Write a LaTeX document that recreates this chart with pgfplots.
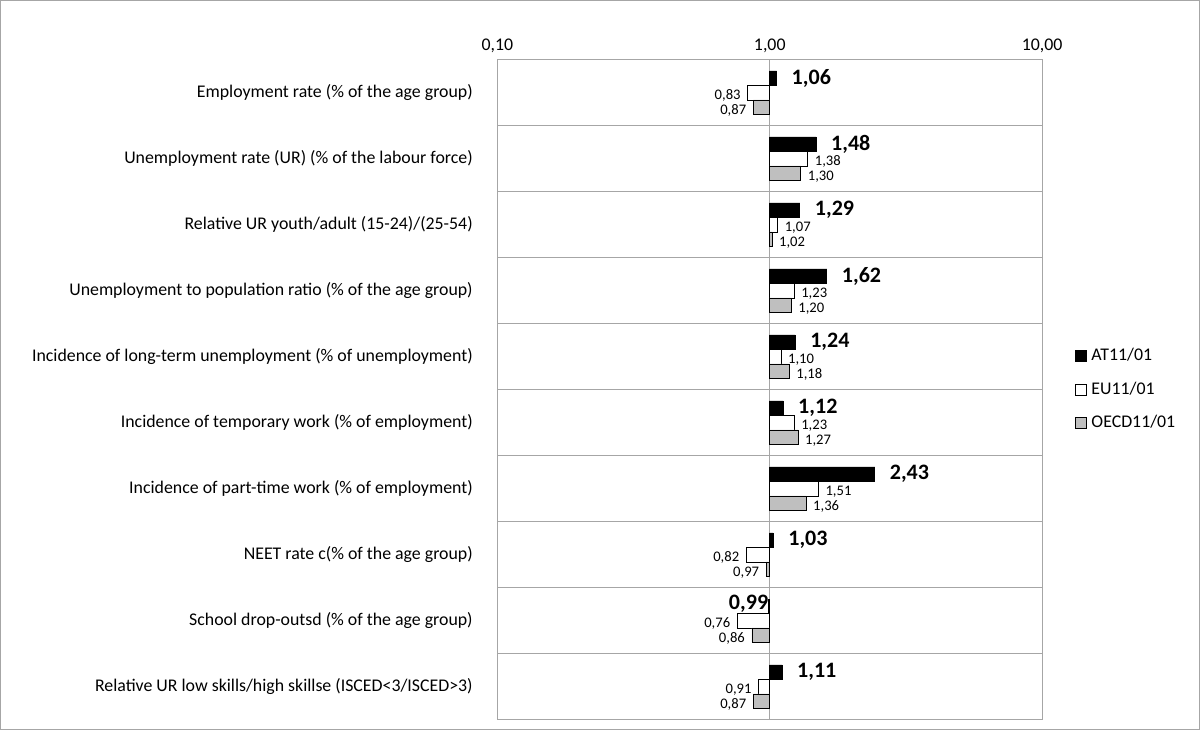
\documentclass[border=0pt]{standalone}
\usepackage{fontspec}
\setmainfont{Carlito}
\usepackage{pgfplots}
\pgfplotsset{compat=1.18}
\usetikzlibrary{calc}
\begin{document}
\begin{tikzpicture}
\begin{axis}[name=a, scale only axis, width=272pt, height=329.5pt,
  xmode=log, xmin=0.1, xmax=10, log basis x=10,
  ymin=-0.5, ymax=9.5, y dir=reverse,
  xtick={0.1,1,10}, xticklabel pos=upper,
  xticklabels={{0,10},{1,00},{10,00}},
  xtick style={draw=none}, minor xtick={}, 
  xmajorgrids, grid style={gray!70, line width=0.6pt},
  extra y ticks={0.5,1.5,2.5,3.5,4.5,5.5,6.5,7.5,8.5}, extra y tick labels={},
  extra y tick style={ymajorgrids, major tick length=0pt, grid style={gray!70,line width=0.6pt}},
  ytick={0,...,9}, ytick style={draw=none},
  yticklabels={Employment rate (\% of the age group),
    Unemployment rate (UR) (\% of the labour force),
    Relative UR youth/adult (15-24)/(25-54),
    Unemployment to population ratio (\% of the age group),
    Incidence of long-term unemployment (\% of unemployment),
    Incidence of temporary work (\% of employment),
    Incidence of part-time work (\% of employment),
    NEET rate c(\% of the age group),
    School drop-outsd (\% of the age group),
    Relative UR low skills/high skillse (ISCED<3/ISCED>3)},
  yticklabel style={font=\fontsize{8.9}{10}\selectfont, xshift=-4.5pt},
  xticklabel style={font=\fontsize{8.9}{10}\selectfont},
  axis line style={gray!70, line width=0.6pt},
  xbar, bar width=0.22, bar shift=0pt,
  visualization depends on={rawx \as \rx},
  nodes near coords={\pgfmathprintnumber[fixed,fixed zerofill,precision=2,use comma,assume math mode=true]{\rx}},
  legend style={at={(1.06,0.5)}, anchor=west, draw=none, font=\fontsize{8.9}{10}\selectfont, row sep=5pt, inner sep=0pt},
  legend cell align=left,
  legend image code/.code={\draw[#1, line width=0.5pt] (0pt,-2.8pt) rectangle (5.6pt,2.8pt);},
]
\addplot[fill=black, draw=black, nodes near coords style={anchor=west, font=\bfseries\fontsize{11}{12}\selectfont, xshift=4pt}]
 coordinates {(1.06,-0.22) (1.48,0.78) (1.29,1.78) (1.62,2.78) (1.24,3.78) (1.12,4.78) (2.43,5.78) (1.03,6.78) (1.11,8.78)};
\addlegendentry{AT11/01}
\addplot[fill=white, draw=black, nodes near coords style={anchor=west, font=\fontsize{7.3}{7.5}\selectfont, yshift=-1.5pt}]
 coordinates {(1.38,1) (1.07,2) (1.23,3) (1.10,4) (1.23,5) (1.51,6)};
\addlegendentry{EU11/01}
\addplot[fill=gray!50, draw=black, nodes near coords style={anchor=west, font=\fontsize{7.3}{7.5}\selectfont, yshift=-1.5pt}]
 coordinates {(1.30,1.22) (1.02,2.22) (1.20,3.22) (1.18,4.22) (1.27,5.22) (1.36,6.22)};
\addlegendentry{OECD11/01}
\addplot[forget plot, fill=black, draw=black, nodes near coords style={anchor=east, font=\bfseries\fontsize{11}{12}\selectfont, yshift=1pt, inner xsep=0pt}]
 coordinates {(0.99,7.78)};
\addplot[forget plot, fill=white, draw=black, nodes near coords style={anchor=east, font=\fontsize{7.3}{7.5}\selectfont, yshift=-1.5pt}]
 coordinates {(0.83,0) (0.82,7) (0.76,8) (0.91,9)};
\addplot[forget plot, fill=gray!50, draw=black, nodes near coords style={anchor=east, font=\fontsize{7.3}{7.5}\selectfont, yshift=-1.5pt}]
 coordinates {(0.87,0.22) (0.97,7.22) (0.86,8.22) (0.87,9.22)};
\end{axis}
\draw[gray!70, line width=0.6pt] ($(a.south west)+(-248pt,-5pt)$) rectangle ($(a.north east)+(78.5pt,29.5pt)$);
\end{tikzpicture}
\end{document}
